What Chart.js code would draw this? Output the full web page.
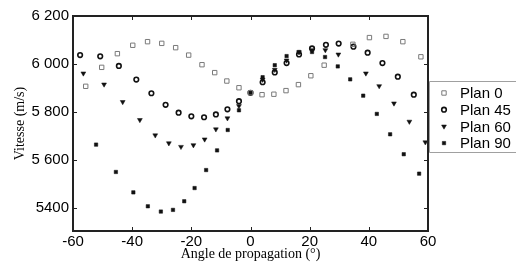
<!DOCTYPE html>
<html lang="fr">

<head>
    <meta charset="UTF-8">
    <title>Vitesse vs angle de propagation</title>
    <script src="https://cdn.jsdelivr.net/npm/chart.js"></script>
    <style>
        body { margin: 0; background: #fff; }
        #wrap { width: 516px; height: 264px; position: relative; }
    </style>
</head>

<body>
    <div id="wrap">
        <canvas id="myChart" width="516" height="264"></canvas>
    </div>
</body>
<script>
    // angles (deg) and velocities (m/s)
    const angle0 = [-55.7, -50.3, -45.0, -39.8, -34.8, -30.0, -25.3, -20.9, -16.4, -12.1, -8.0, -3.9, 0, 3.9, 7.9, 12.0, 16.2, 20.4, 24.9, 34.6, 40.2, 45.8, 51.5, 57.6];
    const plan0 = [5907, 5986, 6043, 6078, 6093, 6086, 6068, 6037, 5997, 5964, 5929, 5901, 5880, 5872, 5874, 5889, 5914, 5951, 5995, 6082, 6110, 6115, 6093, 6030];

    const angle45 = [-57.6, -50.8, -44.5, -38.6, -33.5, -28.7, -24.3, -20.0, -15.7, -11.7, -7.8, -3.9, 0, 4.1, 8.2, 12.2, 16.4, 20.8, 25.5, 29.8, 34.8, 39.6, 44.6, 49.8, 55.2];
    const plan45 = [6037, 6032, 5992, 5935, 5878, 5830, 5797, 5782, 5778, 5790, 5811, 5845, 5880, 5924, 5965, 6004, 6040, 6065, 6080, 6085, 6072, 6047, 6004, 5947, 5872];

    const angle60 = [-56.5, -49.5, -43.2, -37.4, -32.2, -27.6, -23.5, -19.3, -15.5, -11.7, -7.8, -3.9, 0, 4.1, 8.2, 12.2, 16.4, 20.8, 25.3, 29.7, 39.0, 43.5, 48.5, 53.7, 59.1];
    const plan60 = [5961, 5915, 5842, 5767, 5703, 5670, 5655, 5662, 5686, 5728, 5774, 5825, 5880, 5935, 5976, 6015, 6049, 6058, 6058, 6040, 5961, 5908, 5836, 5760, 5674];

    const angle90 = [-52.2, -45.5, -39.6, -34.7, -30.3, -26.2, -22.4, -18.9, -15.0, -11.3, -7.7, -3.9, 0, 4.1, 8.2, 12.2, 16.4, 20.8, 25.2, 29.5, 33.7, 38.1, 42.7, 47.2, 51.8, 57.0];
    const plan90 = [5664, 5550, 5465, 5407, 5385, 5392, 5428, 5483, 5558, 5640, 5725, 5807, 5880, 5945, 5995, 6033, 6050, 6050, 6029, 5990, 5936, 5868, 5792, 5707, 5624, 5543];

    const seriesNames = ['Plan 0', 'Plan 45', 'Plan 60', 'Plan 90'];
    const xTicks = [-60, -40, -20, 0, 20, 40, 60];
    const yTicks = [5400, 5600, 5800, 6000, 6200];
    const yTickLabels = ['5400', '5 600', '5 800', '6 000', '6 200'];

    function toPoints(xs, ys) {
        return xs.map((x, i) => ({ x: x, y: ys[i] }));
    }

    const markerStyles = [
        { pointStyle: 'rect', pointRadius: 3.1, borderWidth: 1, borderColor: '#7a7a7a', backgroundColor: 'rgba(255,255,255,0)', rotation: 0 },
        { pointStyle: 'circle', pointRadius: 2.3, borderWidth: 1.6, borderColor: '#111', backgroundColor: 'rgba(255,255,255,0)', rotation: 0 },
        { pointStyle: 'triangle', pointRadius: 2.8, borderWidth: 0.5, borderColor: '#111', backgroundColor: '#111', rotation: 180 },
        { pointStyle: 'rect', pointRadius: 2.4, borderWidth: 0.5, borderColor: '#111', backgroundColor: '#111', rotation: 0 }
    ];

    const seriesData = [
        toPoints(angle0, plan0),
        toPoints(angle45, plan45),
        toPoints(angle60, plan60),
        toPoints(angle90, plan90)
    ];

    // box around the plot with inward ticks, plus the legend
    const framePlugin = {
        id: 'frame',
        afterDraw(chart) {
            const ctx = chart.ctx;
            const xs = chart.scales.x, ys = chart.scales.y;
            const left = xs.left, right = xs.right, top = ys.top, bottom = ys.bottom;
            ctx.save();
            ctx.strokeStyle = '#222';
            ctx.lineWidth = 1;
            xTicks.forEach(v => {
                const px = Math.round(xs.getPixelForValue(v)) + 0.5;
                ctx.beginPath();
                ctx.moveTo(px, bottom); ctx.lineTo(px, bottom - 4);
                ctx.moveTo(px, top); ctx.lineTo(px, top + 4);
                ctx.stroke();
            });
            yTicks.forEach(v => {
                const py = Math.round(ys.getPixelForValue(v)) + 0.5;
                ctx.beginPath();
                ctx.moveTo(left, py); ctx.lineTo(left + 4, py);
                ctx.moveTo(right, py); ctx.lineTo(right - 4, py);
                ctx.stroke();
            });
            ctx.lineWidth = 2;
            ctx.beginPath();
            ctx.rect(left, top, right - left, bottom - top);
            ctx.stroke();

            // legend
            const lx = 429.5, ly = 81.5, lw = 90, lh = 71;
            ctx.fillStyle = '#fff';
            ctx.fillRect(lx, ly, lw, lh);
            ctx.lineWidth = 1;
            ctx.strokeStyle = '#a0a0a0';
            ctx.beginPath();
            ctx.rect(lx, ly, lw, lh);
            ctx.stroke();
            ctx.font = '15px "Liberation Sans", Arial, sans-serif';
            ctx.textBaseline = 'middle';
            seriesNames.forEach((name, i) => {
                const cy = 93 + i * 16.7;
                const st = markerStyles[i];
                ctx.fillStyle = st.backgroundColor;
                ctx.strokeStyle = st.borderColor;
                ctx.lineWidth = st.borderWidth;
                Chart.helpers.drawPoint(ctx, {
                    pointStyle: st.pointStyle,
                    radius: st.pointRadius,
                    rotation: st.rotation,
                    borderWidth: st.borderWidth
                }, 444, cy);
                ctx.fillStyle = '#000';
                ctx.fillText(name, 460, cy + 1);
            });
            ctx.restore();
        }
    };

    const ctx = document.getElementById('myChart').getContext('2d');
    new Chart(ctx, {
        type: 'scatter',
        data: {
            datasets: seriesData.map((d, i) => Object.assign({
                label: seriesNames[i],
                data: d,
                showLine: false,
                pointHoverRadius: markerStyles[i].pointRadius
            }, markerStyles[i], { pointRotation: markerStyles[i].rotation }))
        },
        options: {
            responsive: false,
            animation: false,
            layout: { padding: { top: 16, right: 88, left: 0, bottom: 0 } },
            plugins: {
                legend: { display: false },
                tooltip: { enabled: false }
            },
            scales: {
                x: {
                    type: 'linear',
                    min: -60,
                    max: 60,
                    afterBuildTicks: scale => { scale.ticks = xTicks.map(v => ({ value: v })); },
                    afterFit: scale => { scale.height = 33; },
                    grid: { display: false, drawTicks: false },
                    border: { display: false },
                    ticks: {
                        color: '#000',
                        padding: 2,
                        maxRotation: 0,
                        font: { family: '"Liberation Sans", Arial, sans-serif', size: 15 },
                        callback: v => String(v)
                    },
                    title: {
                        display: true,
                        text: 'Angle de propagation (°)',
                        color: '#000',
                        padding: { top: 0, bottom: 1 },
                        font: { family: '"Liberation Serif", "Times New Roman", serif', size: 14 }
                    }
                },
                y: {
                    min: 5304,
                    max: 6200,
                    afterBuildTicks: scale => { scale.ticks = yTicks.map(v => ({ value: v })); },
                    afterFit: scale => { scale.width = 73; },
                    grid: { display: false, drawTicks: false },
                    border: { display: false },
                    ticks: {
                        color: '#000',
                        padding: 4,
                        font: { family: '"Liberation Sans", Arial, sans-serif', size: 15 },
                        callback: (v, i) => yTickLabels[i]
                    },
                    title: {
                        display: true,
                        text: 'Vitesse (m/s)',
                        color: '#000',
                        padding: { top: 12, bottom: 0 },
                        font: { family: '"Liberation Serif", "Times New Roman", serif', size: 14 }
                    }
                }
            }
        },
        plugins: [framePlugin]
    });
</script>

</html>
